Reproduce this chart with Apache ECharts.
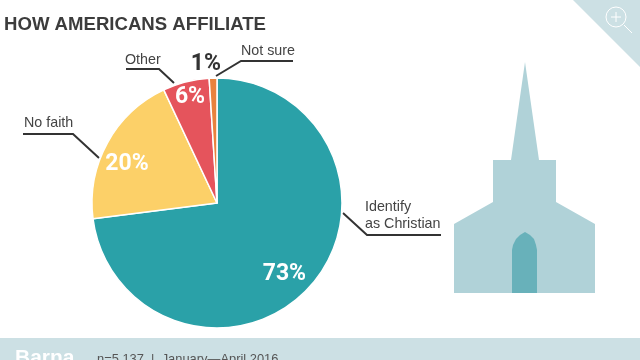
<!DOCTYPE html>
<html><head><meta charset="utf-8">
<style>html,body{margin:0;padding:0;background:#fff}#c{width:640px;height:360px}</style>
<script src="https://cdn.jsdelivr.net/npm/echarts@6/dist/echarts.min.js"></script>
</head><body><div id="c"></div>
<script>
const categories = ['Identify\nas Christian', 'No faith', 'Other', 'Not sure'];
const values = [73, 20, 6, 1];
const sliceColors = ['#2aa1a8', '#fcd068', '#e5545c', '#e8823d'];
const titleText = 'HOW AMERICANS AFFILIATE';
const footerBrand = 'Barna';
const footerNote = 'n=5,137  |  January\u2014April 2016';

const center = [217, 203];
const nameLayouts = [
  {x: 365, y: 216, align: 'left', line: [[343, 213], [367, 235], [441, 235]]},
  {x: 24, y: 123, align: 'left', line: [[99, 158], [73, 134], [23, 134]]},
  {x: 125, y: 60, align: 'left', line: [[174, 83], [159, 69], [126, 69]]},
  {x: 241, y: 51, align: 'left', line: [[216, 76], [241, 61], [293, 61]]}
];
const pctShift = [[-8, 5], [-2, 10], [-2, -8], [-8, -38]];

const chart = echarts.init(document.getElementById('c'), null, {renderer: 'canvas'});
const church = '#b0d2d8', door = '#68b1ba', band = '#cce0e4';
chart.setOption({
  animation: false,
  backgroundColor: '#fff',
  title: {text: titleText, left: -1, top: 10, textStyle: {fontFamily: 'Liberation Sans', fontWeight: 'bold', fontSize: 18.6, color: '#3c3c3c'}},
  graphic: [
    {type: 'rect', z: 0, shape: {x: 0, y: 338, width: 640, height: 22}, style: {fill: band}},
    {type: 'text', z: 1, style: {x: 15, y: 348, text: footerBrand, fill: '#fff', font: 'bold 21px "Liberation Sans"'}},
    {type: 'text', z: 1, style: {x: 97, y: 353, text: footerNote, fill: '#555', font: '12.9px "Liberation Sans"'}},
    {type: 'polygon', z: 0, shape: {points: [[573, 0], [640, 67], [640, 0]]}, style: {fill: band}},
    {type: 'circle', z: 1, shape: {cx: 616, cy: 17, r: 10}, style: {fill: 'none', stroke: '#fff', lineWidth: 1}},
    {type: 'polyline', z: 1, shape: {points: [[624, 25], [632, 33]]}, style: {stroke: '#fff', lineWidth: 1}},
    {type: 'polyline', z: 1, shape: {points: [[611, 17], [621, 17]]}, style: {stroke: '#fff', lineWidth: 1}},
    {type: 'polyline', z: 1, shape: {points: [[616, 12], [616, 22]]}, style: {stroke: '#fff', lineWidth: 1}},
    {type: 'polygon', z: 0, shape: {points: [[525, 62], [539, 160], [556, 160], [556, 202], [595, 224], [595, 293], [454, 293], [454, 224], [493, 202], [493, 160], [511, 160]]}, style: {fill: church}},
    {type: 'polygon', z: 1, shape: {points: [[512, 293], [512, 250], [513, 245], [516, 239], [520, 235], [525, 232], [530, 235], [534, 239], [536, 245], [537, 250], [537, 293]]}, style: {fill: door}}
  ],
  series: [
    {
      type: 'pie', center, radius: [0, 125], startAngle: 90, clockwise: true, silent: true, z: 2,
      data: categories.map((n, i) => ({name: n, value: values[i], itemStyle: {color: sliceColors[i]}})),
      itemStyle: {borderColor: '#fff', borderWidth: 1.5},
      label: {show: true, position: 'outside', formatter: '{b}', fontFamily: 'Liberation Sans', fontSize: 14.3, lineHeight: 17, color: '#444', alignTo: 'none'},
      labelLine: {show: true, lineStyle: {color: '#333', width: 2}},
      labelLayout: p => {
        const l = nameLayouts[p.dataIndex];
        return {x: l.x, y: l.y, align: l.align, verticalAlign: 'middle', labelLinePoints: l.line};
      }
    },
    {
      type: 'pie', center, radius: [70, 125], startAngle: 90, clockwise: true, silent: true, z: 3,
      data: categories.map((n, i) => ({
        name: n, value: values[i], itemStyle: {color: 'transparent', borderWidth: 0},
        label: {color: i === 3 ? '#333' : '#fff'}
      })),
      label: {show: true, position: 'inside', formatter: p => p.value + '%', fontFamily: 'Roboto', fontWeight: 'bold', fontSize: 23},
      labelLine: {show: false},
      labelLayout: p => ({dx: pctShift[p.dataIndex][0], dy: pctShift[p.dataIndex][1]})
    }
  ]
});
</script></body></html>
